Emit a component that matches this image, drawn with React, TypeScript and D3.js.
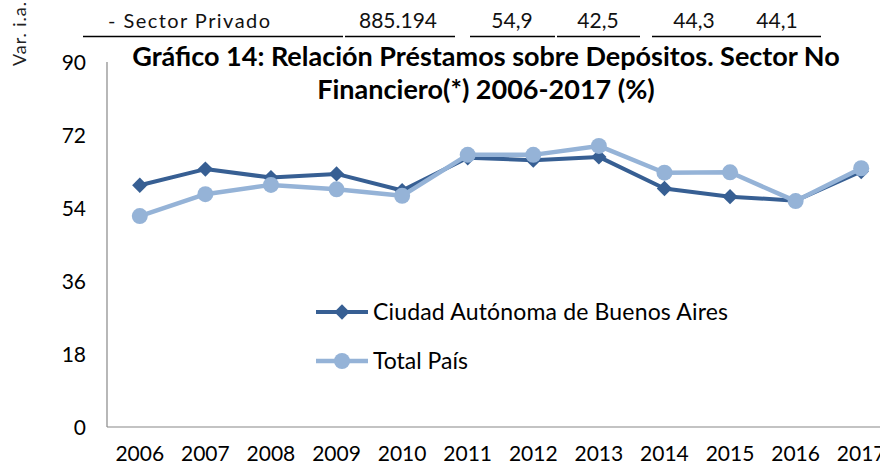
import React from "react";
import * as d3 from "d3";

const years = ["2006","2007","2008","2009","2010","2011","2012","2013","2014","2015","2016","2017"];
const cabaValues = [59.6, 63.6, 61.5, 62.4, 58.3, 66.4, 65.8, 66.6, 58.8, 56.8, 55.8, 63.0];
const totalValues = [52.0, 57.4, 59.7, 58.6, 57.0, 67.1, 67.1, 69.3, 62.7, 62.8, 55.7, 63.8];
const yTicks = [0, 18, 36, 54, 72, 90];
const seriesNames = ["Ciudad Autónoma de Buenos Aires", "Total País"];
const titleLines = ["Gráfico 14: Relación Préstamos sobre Depósitos. Sector No", "Financiero(*) 2006-2017 (%)"];
const topRowLabel = "- Sector Privado";
const topRowValues = ["885.194", "54,9", "42,5", "44,3", "44,1"];
const yAxisNote = "Var. i.a.";

const FONT = "Lato, 'Open Sans', sans-serif";
const DARK = "#375F93";
const LIGHT = "#95B3D7";

export default function App() {
  const left = 107, right = 894, top = 62, bottom = 427;
  const x = d3.scaleBand<string>().domain(years).range([left, right]).padding(0);
  const y = d3.scaleLinear().domain([0, 90]).range([bottom, top]);
  const cx = (d: string) => (x(d) ?? 0) + x.bandwidth() / 2;

  const line = d3.line<number>().x((_, i) => cx(years[i])).y((v) => y(v));
  const diamond = d3.symbol().type(d3.symbolDiamond2).size(150);

  const topValX = [398, 512, 598, 694, 777];
  const topLines: [number, number][] = [[83, 343], [345, 455], [470, 555], [557, 640], [652, 821]];

  const legendY = [312, 361];

  return (
    <svg width={880} height={464} style={{ position: "absolute", left: 0, top: 0, background: "#fff" }}>
      <rect x={0} y={0} width={880} height={464} fill="#fff" />
      {/* top strip (remnant of a table) */}
      <text x={0} y={0} transform={`translate(26,66) rotate(-90)`} fontFamily={FONT} fontSize={18} fill="#222" textLength={64} lengthAdjust="spacing">{yAxisNote}</text>
      <text x={108} y={28} fontFamily={FONT} fontSize={20} fill="#111" textLength={162} lengthAdjust="spacing">{topRowLabel}</text>
      {topRowValues.map((v, i) => (
        <text key={v} x={topValX[i]} y={28} textAnchor="middle" fontFamily={FONT} fontSize={21} fill="#111">{v}</text>
      ))}
      {topLines.map(([a, b], i) => (
        <line key={i} x1={a} x2={b} y1={36.5} y2={36.5} stroke="#000" strokeWidth={1.5} />
      ))}

      {/* title */}
      {titleLines.map((t, i) => (
        <text key={i} x={486} y={66 + i * 33} textAnchor="middle" fontFamily={FONT} fontWeight="bold" fontSize={27} fill="#000">{t}</text>
      ))}

      {/* axes */}
      <line x1={left} x2={left} y1={top} y2={bottom} stroke="#888" strokeWidth={1.2} />
      <line x1={left} x2={880} y1={bottom} y2={bottom} stroke="#888" strokeWidth={1.2} />
      {yTicks.map((t) => (
        <text key={t} x={86} y={y(t)} dy="0.36em" textAnchor="end" fontFamily={FONT} fontSize={21} fill="#000">{t}</text>
      ))}
      {years.map((yr) => (
        <text key={yr} x={cx(yr)} y={461} textAnchor="middle" fontFamily={FONT} fontSize={21} fill="#000">{yr}</text>
      ))}

      {/* series */}
      <path d={line(cabaValues) ?? ""} fill="none" stroke={DARK} strokeWidth={4} strokeLinejoin="round" />
      {cabaValues.map((v, i) => (
        <path key={i} d={diamond() ?? ""} transform={`translate(${cx(years[i])},${y(v)})`} fill={DARK} />
      ))}
      <path d={line(totalValues) ?? ""} fill="none" stroke={LIGHT} strokeWidth={4.5} strokeLinejoin="round" />
      {totalValues.map((v, i) => (
        <circle key={i} cx={cx(years[i])} cy={y(v)} r={8} fill={LIGHT} />
      ))}

      {/* legend */}
      <line x1={316} x2={368} y1={legendY[0]} y2={legendY[0]} stroke={DARK} strokeWidth={4} />
      <path d={diamond() ?? ""} transform={`translate(342,${legendY[0]})`} fill={DARK} />
      <text x={373} y={legendY[0]} dy="0.36em" fontFamily={FONT} fontSize={23} fill="#000" textLength={355} lengthAdjust="spacing">{seriesNames[0]}</text>
      <line x1={316} x2={368} y1={legendY[1]} y2={legendY[1]} stroke={LIGHT} strokeWidth={4.5} />
      <circle cx={342} cy={legendY[1]} r={8} fill={LIGHT} />
      <text x={373} y={legendY[1]} dy="0.36em" fontFamily={FONT} fontSize={23} fill="#000">{seriesNames[1]}</text>
    </svg>
  );
}
